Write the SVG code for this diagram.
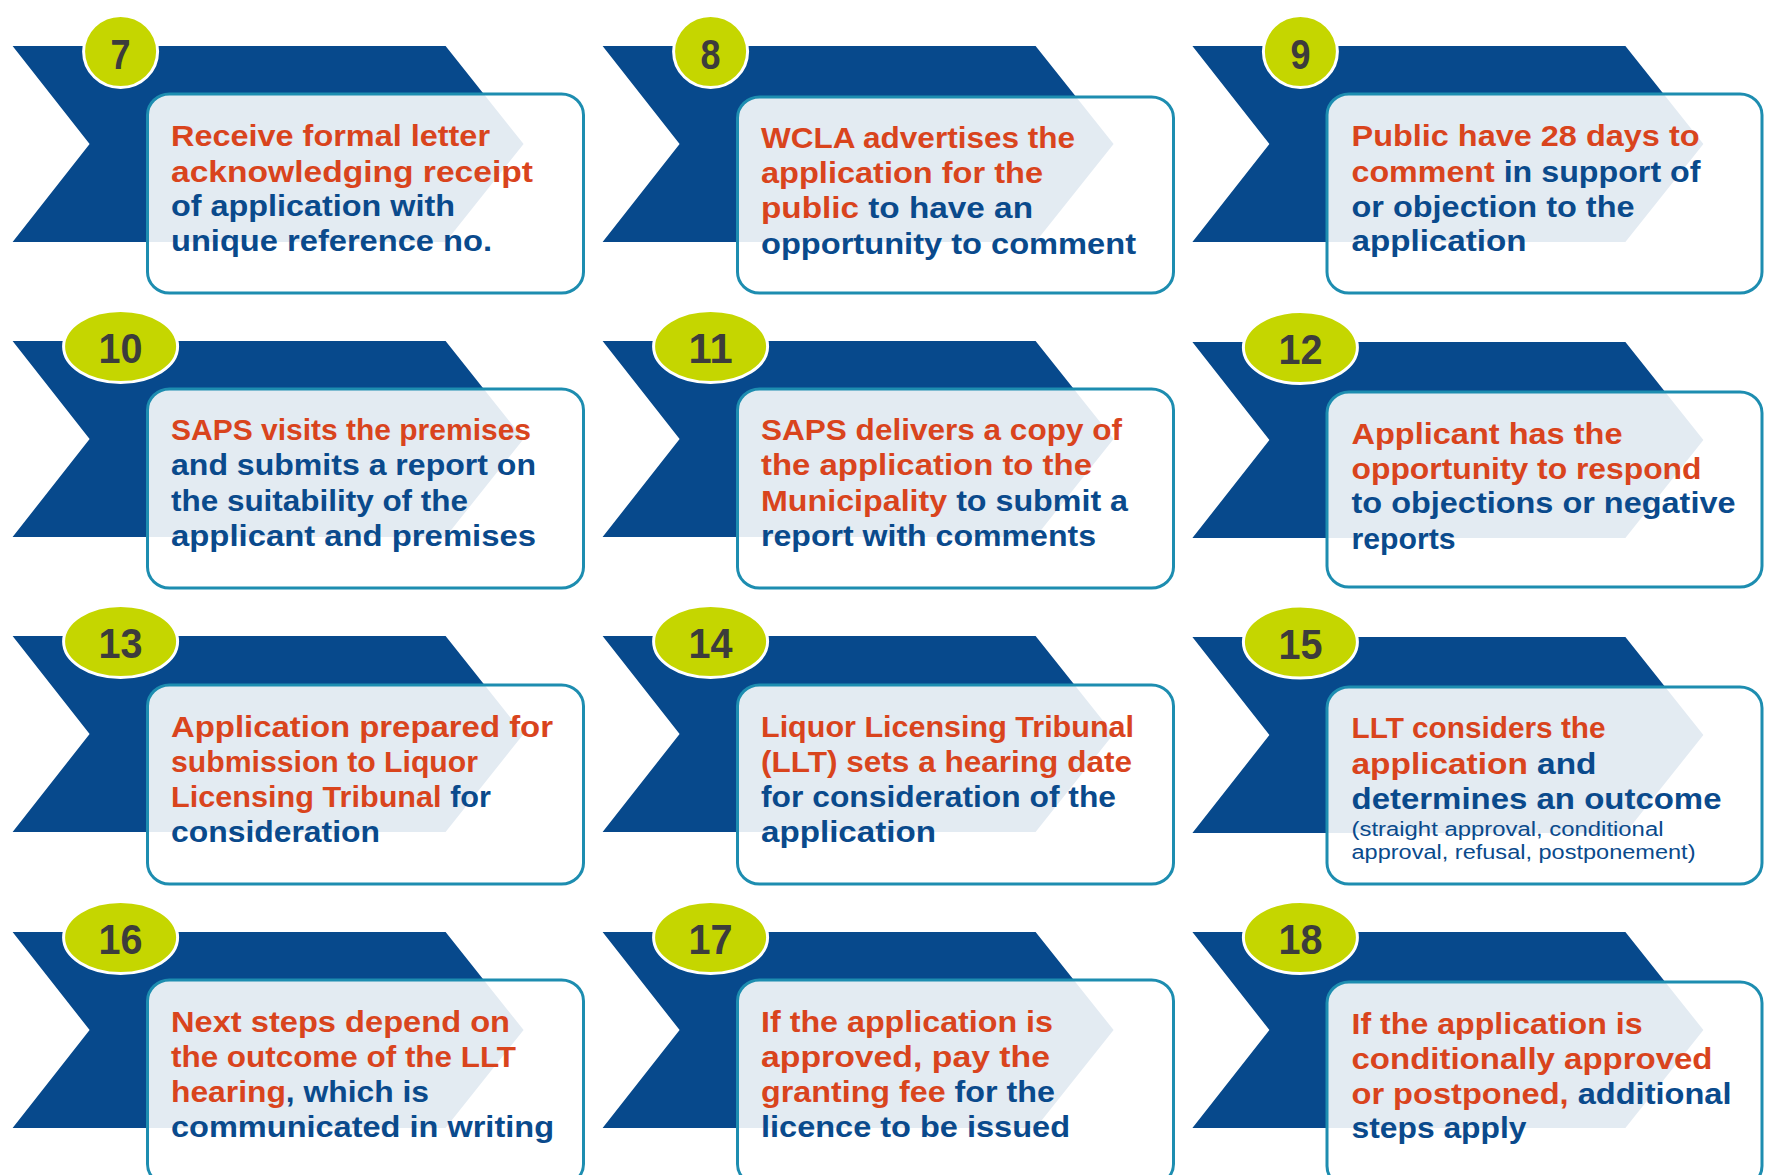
<svg xmlns="http://www.w3.org/2000/svg" xmlns:xlink="http://www.w3.org/1999/xlink" width="1771" height="1175" viewBox="0 0 1771 1175">
<style>
.chev{fill:#07498c}
.badge{fill:#c5d600;stroke:#ffffff;stroke-width:3}
.num{font-family:"Liberation Sans",Arial,sans-serif;font-weight:bold;font-size:43px;fill:#3c3c3c;text-anchor:middle}
.box{fill:#ffffff;fill-opacity:0.89;stroke:#1d8db0;stroke-width:3}
.t{font-family:"Liberation Sans",Arial,sans-serif;font-weight:bold;font-size:29.5px;fill:#0a4a8c}
.o{fill:#d9441d}
.s{font-weight:normal;font-size:20px}
</style>
<defs>
<polygon id="chev" class="chev" points="0,0 433,0 511,98 433,196 0,196 77,98"/>
</defs>
<rect width="1771" height="1175" fill="#ffffff"/>

<g id="step-7">
<use xlink:href="#chev" href="#chev" x="12.6" y="46"/>
<ellipse class="badge" cx="120.6" cy="51.5" rx="37" ry="36"/>
<text class="num" x="120.6" y="68.5" textLength="20" lengthAdjust="spacingAndGlyphs">7</text>
<rect class="box" x="147.5" y="94" width="436" height="199" rx="22" ry="21"/>
<text class="t o" x="171" y="146" textLength="319" lengthAdjust="spacingAndGlyphs">Receive formal letter</text>
<text class="t o" x="171" y="182" textLength="362" lengthAdjust="spacingAndGlyphs">acknowledging receipt</text>
<text class="t" x="171" y="216" textLength="284" lengthAdjust="spacingAndGlyphs">of application with</text>
<text class="t" x="171" y="251" textLength="321" lengthAdjust="spacingAndGlyphs">unique reference no.</text>
</g>

<g id="step-8">
<use xlink:href="#chev" href="#chev" x="602.6" y="46"/>
<ellipse class="badge" cx="710.6" cy="51.5" rx="37" ry="36"/>
<text class="num" x="710.6" y="68.5" textLength="20" lengthAdjust="spacingAndGlyphs">8</text>
<rect class="box" x="737.5" y="97" width="436" height="196" rx="22" ry="21"/>
<text class="t o" x="761" y="148" textLength="314" lengthAdjust="spacingAndGlyphs">WCLA advertises the</text>
<text class="t o" x="761" y="183" textLength="282" lengthAdjust="spacingAndGlyphs">application for the</text>
<text class="t" x="761" y="218" textLength="272" lengthAdjust="spacingAndGlyphs"><tspan class="o">public</tspan> to have an</text>
<text class="t" x="761" y="254" textLength="375" lengthAdjust="spacingAndGlyphs">opportunity to comment</text>
</g>

<g id="step-9">
<use xlink:href="#chev" href="#chev" x="1192.4" y="46"/>
<ellipse class="badge" cx="1300.4" cy="51.5" rx="37" ry="36"/>
<text class="num" x="1300.4" y="68.5" textLength="20" lengthAdjust="spacingAndGlyphs">9</text>
<rect class="box" x="1327" y="94" width="435" height="199" rx="22" ry="21"/>
<text class="t o" x="1351.5" y="146" textLength="348" lengthAdjust="spacingAndGlyphs">Public have 28 days to</text>
<text class="t" x="1351.5" y="182" textLength="349" lengthAdjust="spacingAndGlyphs"><tspan class="o">comment</tspan> in support of</text>
<text class="t" x="1351.5" y="217" textLength="283" lengthAdjust="spacingAndGlyphs">or objection to the</text>
<text class="t" x="1351.5" y="251" textLength="175" lengthAdjust="spacingAndGlyphs">application</text>
</g>

<g id="step-10">
<use xlink:href="#chev" href="#chev" x="12.6" y="341"/>
<ellipse class="badge" cx="120.6" cy="346.5" rx="57" ry="36"/>
<text class="num" x="120.6" y="363" textLength="44" lengthAdjust="spacingAndGlyphs">10</text>
<rect class="box" x="147.5" y="389" width="436" height="199" rx="22" ry="21"/>
<text class="t o" x="171" y="440" textLength="360" lengthAdjust="spacingAndGlyphs">SAPS visits the premises</text>
<text class="t" x="171" y="475" textLength="365" lengthAdjust="spacingAndGlyphs">and submits a report on</text>
<text class="t" x="171" y="511" textLength="297" lengthAdjust="spacingAndGlyphs">the suitability of the</text>
<text class="t" x="171" y="546" textLength="365" lengthAdjust="spacingAndGlyphs">applicant and premises</text>
</g>

<g id="step-11">
<use xlink:href="#chev" href="#chev" x="602.6" y="341"/>
<ellipse class="badge" cx="710.6" cy="346.5" rx="57" ry="36"/>
<text class="num" x="710.6" y="363" textLength="44" lengthAdjust="spacingAndGlyphs">11</text>
<rect class="box" x="737.5" y="389" width="436" height="199" rx="22" ry="21"/>
<text class="t o" x="761" y="440" textLength="361" lengthAdjust="spacingAndGlyphs">SAPS delivers a copy of</text>
<text class="t o" x="761" y="475" textLength="331" lengthAdjust="spacingAndGlyphs">the application to the</text>
<text class="t" x="761" y="511" textLength="367" lengthAdjust="spacingAndGlyphs"><tspan class="o">Municipality</tspan> to submit a</text>
<text class="t" x="761" y="546" textLength="335" lengthAdjust="spacingAndGlyphs">report with comments</text>
</g>

<g id="step-12">
<use xlink:href="#chev" href="#chev" x="1192.4" y="342"/>
<ellipse class="badge" cx="1300.4" cy="347.5" rx="57" ry="36"/>
<text class="num" x="1300.4" y="364" textLength="44" lengthAdjust="spacingAndGlyphs">12</text>
<rect class="box" x="1327" y="392" width="435" height="195" rx="22" ry="21"/>
<text class="t o" x="1351.5" y="444" textLength="271" lengthAdjust="spacingAndGlyphs">Applicant has the</text>
<text class="t o" x="1351.5" y="479" textLength="350" lengthAdjust="spacingAndGlyphs">opportunity to respond</text>
<text class="t" x="1351.5" y="513" textLength="384" lengthAdjust="spacingAndGlyphs">to objections or negative</text>
<text class="t" x="1351.5" y="549" textLength="104" lengthAdjust="spacingAndGlyphs">reports</text>
</g>

<g id="step-13">
<use xlink:href="#chev" href="#chev" x="12.6" y="636"/>
<ellipse class="badge" cx="120.6" cy="641.5" rx="57" ry="36"/>
<text class="num" x="120.6" y="658" textLength="44" lengthAdjust="spacingAndGlyphs">13</text>
<rect class="box" x="147.5" y="685" width="436" height="199" rx="22" ry="21"/>
<text class="t o" x="171" y="737" textLength="382" lengthAdjust="spacingAndGlyphs">Application prepared for</text>
<text class="t o" x="171" y="772" textLength="307" lengthAdjust="spacingAndGlyphs">submission to Liquor</text>
<text class="t" x="171" y="807" textLength="320" lengthAdjust="spacingAndGlyphs"><tspan class="o">Licensing Tribunal</tspan> for</text>
<text class="t" x="171" y="842" textLength="209" lengthAdjust="spacingAndGlyphs">consideration</text>
</g>

<g id="step-14">
<use xlink:href="#chev" href="#chev" x="602.6" y="636"/>
<ellipse class="badge" cx="710.6" cy="641.5" rx="57" ry="36"/>
<text class="num" x="710.6" y="658" textLength="44" lengthAdjust="spacingAndGlyphs">14</text>
<rect class="box" x="737.5" y="685" width="436" height="199" rx="22" ry="21"/>
<text class="t o" x="761" y="737" textLength="373" lengthAdjust="spacingAndGlyphs">Liquor Licensing Tribunal</text>
<text class="t o" x="761" y="772" textLength="371" lengthAdjust="spacingAndGlyphs">(LLT) sets a hearing date</text>
<text class="t" x="761" y="807" textLength="355" lengthAdjust="spacingAndGlyphs">for consideration of the</text>
<text class="t" x="761" y="842" textLength="175" lengthAdjust="spacingAndGlyphs">application</text>
</g>

<g id="step-15">
<use xlink:href="#chev" href="#chev" x="1192.4" y="637"/>
<ellipse class="badge" cx="1300.4" cy="642" rx="57" ry="36"/>
<text class="num" x="1300.4" y="659" textLength="44" lengthAdjust="spacingAndGlyphs">15</text>
<rect class="box" x="1327" y="687" width="435" height="197" rx="22" ry="21"/>
<text class="t o" x="1351.5" y="738" textLength="254" lengthAdjust="spacingAndGlyphs">LLT considers the</text>
<text class="t" x="1351.5" y="774" textLength="245" lengthAdjust="spacingAndGlyphs"><tspan class="o">application</tspan> and</text>
<text class="t" x="1351.5" y="809" textLength="370" lengthAdjust="spacingAndGlyphs">determines an outcome</text>
<text class="t s" x="1351.5" y="836" textLength="312" lengthAdjust="spacingAndGlyphs">(straight approval, conditional</text>
<text class="t s" x="1351.5" y="859" textLength="344" lengthAdjust="spacingAndGlyphs">approval, refusal, postponement)</text>
</g>

<g id="step-16">
<use xlink:href="#chev" href="#chev" x="12.6" y="932"/>
<ellipse class="badge" cx="120.6" cy="937.5" rx="57" ry="36"/>
<text class="num" x="120.6" y="954" textLength="44" lengthAdjust="spacingAndGlyphs">16</text>
<rect class="box" x="147.5" y="980" width="436" height="205" rx="22" ry="21"/>
<text class="t o" x="171" y="1032" textLength="339" lengthAdjust="spacingAndGlyphs">Next steps depend on</text>
<text class="t o" x="171" y="1067" textLength="345" lengthAdjust="spacingAndGlyphs">the outcome of the LLT</text>
<text class="t" x="171" y="1102" textLength="258" lengthAdjust="spacingAndGlyphs"><tspan class="o">hearing</tspan>, which is</text>
<text class="t" x="171" y="1137" textLength="383" lengthAdjust="spacingAndGlyphs">communicated in writing</text>
</g>

<g id="step-17">
<use xlink:href="#chev" href="#chev" x="602.6" y="932"/>
<ellipse class="badge" cx="710.6" cy="937.5" rx="57" ry="36"/>
<text class="num" x="710.6" y="954" textLength="44" lengthAdjust="spacingAndGlyphs">17</text>
<rect class="box" x="737.5" y="980" width="436" height="205" rx="22" ry="21"/>
<text class="t o" x="761" y="1032" textLength="292" lengthAdjust="spacingAndGlyphs">If the application is</text>
<text class="t o" x="761" y="1067" textLength="289" lengthAdjust="spacingAndGlyphs">approved, pay the</text>
<text class="t" x="761" y="1102" textLength="294" lengthAdjust="spacingAndGlyphs"><tspan class="o">granting fee</tspan> for the</text>
<text class="t" x="761" y="1137" textLength="309" lengthAdjust="spacingAndGlyphs">licence to be issued</text>
</g>

<g id="step-18">
<use xlink:href="#chev" href="#chev" x="1192.4" y="932"/>
<ellipse class="badge" cx="1300.4" cy="937.5" rx="57" ry="36"/>
<text class="num" x="1300.4" y="954" textLength="44" lengthAdjust="spacingAndGlyphs">18</text>
<rect class="box" x="1327" y="982" width="435" height="205" rx="22" ry="21"/>
<text class="t o" x="1351.5" y="1034" textLength="291" lengthAdjust="spacingAndGlyphs">If the application is</text>
<text class="t o" x="1351.5" y="1069" textLength="361" lengthAdjust="spacingAndGlyphs">conditionally approved</text>
<text class="t" x="1351.5" y="1104" textLength="380" lengthAdjust="spacingAndGlyphs"><tspan class="o">or postponed,</tspan> additional</text>
<text class="t" x="1351.5" y="1138" textLength="175" lengthAdjust="spacingAndGlyphs">steps apply</text>
</g>
</svg>
